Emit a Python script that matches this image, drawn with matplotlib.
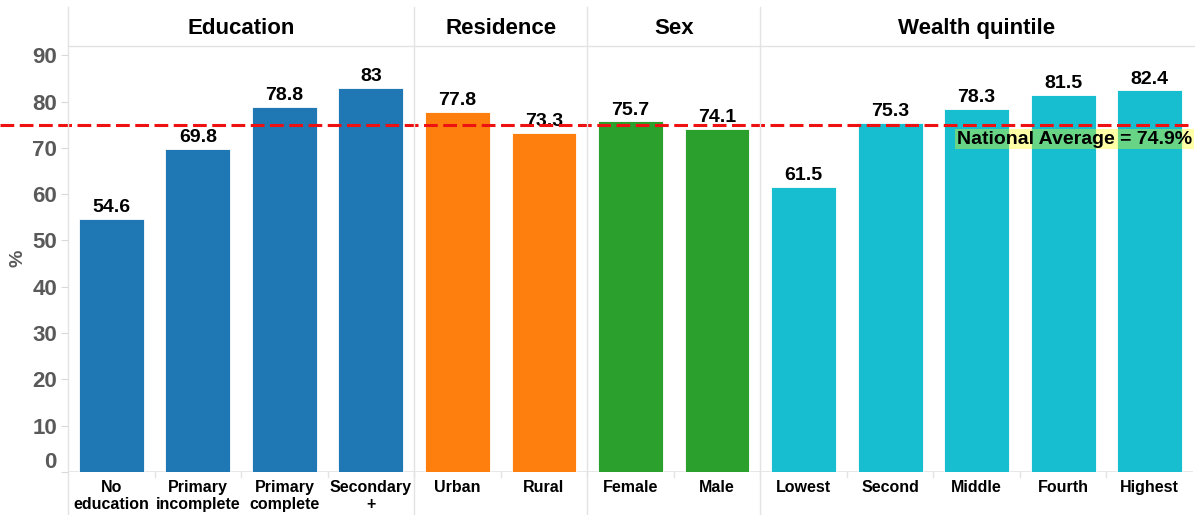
import matplotlib
matplotlib.use("Agg")
import matplotlib.pyplot as plt
import matplotlib.transforms as mtransforms
from matplotlib.lines import Line2D

plt.rcParams['font.family'] = ['Liberation Sans', 'DejaVu Sans']

# data
groups = ["Education", "Residence", "Sex", "Wealth quintile"]
group_sizes = [4, 2, 2, 5]
group_colors = ["#1f77b4", "#ff7f0e", "#2ca02c", "#17becf"]
categories = ["No\neducation", "Primary\nincomplete", "Primary\ncomplete", "Secondary\n+",
              "Urban", "Rural", "Female", "Male",
              "Lowest", "Second", "Middle", "Fourth", "Highest"]
values = [54.6, 69.8, 78.8, 83, 77.8, 73.3, 75.7, 74.1, 61.5, 75.3, 78.3, 81.5, 82.4]
national_avg = 74.9

W, H = 1195, 515
fig = plt.figure(figsize=(W / 100, H / 100), dpi=100)
ax = fig.add_axes([68 / W, 43 / H, 1125 / W, 426 / H])

colors = []
for c, n in zip(group_colors, group_sizes):
    colors += [c] * n
x = list(range(len(values)))

ax.bar(x, values, width=0.75, color=colors, edgecolor="white", linewidth=0.6, zorder=2)
for xi, v in zip(x, values):
    ax.text(xi, v + 1.5, "%g" % v, ha="center", va="baseline", fontsize=14,
            fontweight="bold", color="black", zorder=3)

ax.set_xlim(-0.5, len(values) - 0.5)
ax.set_ylim(0, 92)
for s in ax.spines.values():
    s.set_visible(False)

ax.set_xticks(x)
ax.set_xticklabels(categories, fontsize=11.5, fontweight="bold", linespacing=1.15)
ax.tick_params(axis="x", length=0, pad=6)
ax.set_yticks(range(0, 100, 10))
ax.set_yticklabels([str(t) for t in range(0, 100, 10)], fontsize=16, fontweight="bold",
                   color="#595959")
ax.tick_params(axis="y", length=5, color="#d9d9d9", pad=3)
# the 0 label sits a little above the baseline
zl = ax.get_yticklabels()[0]
zl.set_transform(zl.get_transform() + mtransforms.ScaledTranslation(0, 9 / 72, fig.dpi_scale_trans))

grid_c = "#e3e3e3"
ax.axhline(0, color=grid_c, lw=1.2, zorder=1)
for b in range(1, len(values)):
    ax.plot([b - 0.5, b - 0.5], [0, -1.1], color=grid_c, lw=1, clip_on=False)

# panel dividers, header line, left axis line
bx = mtransforms.blended_transform_factory(ax.transData, fig.transFigure)
edges = []
acc = 0
for n in group_sizes:
    acc += n
    edges.append(acc - 0.5)
for e in edges[:-1]:
    fig.add_artist(Line2D([e, e], [0, 1 - 7 / H], transform=bx, color=grid_c, lw=1))
fig.add_artist(Line2D([68 / W, 68 / W], [0, 1 - 7 / H], transform=fig.transFigure,
                      color=grid_c, lw=1))
fig.add_artist(Line2D([68 / W, 1], [1 - 46 / H, 1 - 46 / H], transform=fig.transFigure,
                      color=grid_c, lw=1))

# headers
start = -0.5
for g, n in zip(groups, group_sizes):
    fig.text(start + n / 2, 1 - 34 / H, g, transform=bx, ha="center", va="baseline",
             fontsize=16, fontweight="bold", color="black")
    start += n

# national average reference line
yt = ax.get_yaxis_transform()
ax.plot([-68 / 1125, 1.0], [national_avg, national_avg], transform=yt, color="#ee1111",
        lw=2.2, dashes=(4.5, 1.8), clip_on=False, zorder=4)
fig.text(1192 / W, 1 - 139 / H, "National Average = 74.9%", ha="right", va="center",
         fontsize=14, fontweight="bold", color="black",
         bbox=dict(boxstyle="square,pad=0.1", fc=(1, 1, 0, 0.35), ec="none"))

fig.text(18 / W, 1 - 258 / H, "%", rotation=90, ha="center", va="center", fontsize=14,
         fontweight="bold", color="#595959")

fig.savefig("out.png", dpi=100)
